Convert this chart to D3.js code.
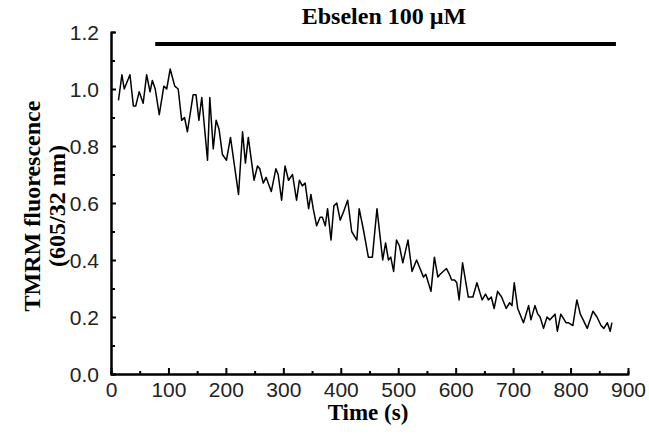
<!DOCTYPE html>
<html>
<head>
<meta charset="utf-8">
<script src="https://cdn.jsdelivr.net/npm/d3@7"></script>
<style>
  body { margin: 0; background: #fff; }
  svg { display: block; }
</style>
</head>
<body>
<svg id="graph" width="649" height="443"></svg>
<script>
/* global d3 */
const times = [13, 19, 23, 33, 39, 43, 49, 56, 62, 68, 72, 77, 84, 92, 97, 103, 111, 117, 123, 128,
  133, 143, 148, 153, 158, 168, 172, 178, 183, 188, 194, 201, 208, 222, 229, 234, 239, 249, 255, 259,
  265, 270, 279, 287, 291, 297, 303, 309, 316, 323, 328, 333, 338, 344, 348, 352, 358, 364, 368, 373,
  377, 383, 388, 393, 399, 405, 412, 419, 428, 432, 440, 448, 455, 463, 473, 478, 483, 487, 492, 497,
  502, 508, 517, 524, 532, 544, 548, 557, 563, 569, 573, 584, 589, 593, 598, 602, 606, 612, 622, 630,
  637, 646, 652, 657, 662, 667, 673, 680, 688, 694, 698, 702, 708, 718, 727, 731, 738, 743, 747, 753,
  759, 764, 773, 777, 783, 792, 796, 804, 811, 817, 822, 829, 839, 846, 853, 858, 864, 869, 872]
const fluorescence = [0.96, 1.05, 1.00, 1.05, 0.94, 0.94, 0.99, 0.95, 1.05, 0.99, 1.03, 1.00, 0.91, 1.01, 1.00, 1.07, 1.01, 1.00, 0.89, 0.90,
  0.85, 0.98, 0.98, 0.89, 0.97, 0.75, 0.97, 0.79, 0.89, 0.86, 0.77, 0.75, 0.83, 0.63, 0.85, 0.74, 0.83, 0.68, 0.73, 0.72,
  0.67, 0.69, 0.64, 0.72, 0.70, 0.61, 0.73, 0.68, 0.70, 0.61, 0.68, 0.66, 0.67, 0.58, 0.63, 0.58, 0.52, 0.55, 0.55, 0.52,
  0.58, 0.47, 0.59, 0.60, 0.54, 0.57, 0.61, 0.50, 0.47, 0.58, 0.50, 0.41, 0.41, 0.58, 0.40, 0.46, 0.40, 0.41, 0.36, 0.47,
  0.45, 0.39, 0.47, 0.36, 0.40, 0.34, 0.35, 0.29, 0.41, 0.34, 0.35, 0.37, 0.35, 0.33, 0.33, 0.32, 0.26, 0.39, 0.27, 0.27,
  0.32, 0.26, 0.28, 0.26, 0.27, 0.23, 0.29, 0.27, 0.23, 0.25, 0.24, 0.32, 0.23, 0.18, 0.24, 0.19, 0.24, 0.21, 0.20, 0.16,
  0.20, 0.19, 0.21, 0.15, 0.21, 0.18, 0.18, 0.17, 0.26, 0.21, 0.19, 0.16, 0.22, 0.20, 0.17, 0.16, 0.18, 0.15, 0.18]
const xTicks = [0, 100, 200, 300, 400, 500, 600, 700, 800, 900]
const yTicks = [0.0, 0.2, 0.4, 0.6, 0.8, 1.0, 1.2]
const treatment = { label: 'Ebselen 100 \u00b5M', start: 77, end: 879 }

const margin = { top: 32, right: 21, bottom: 69, left: 111 }
const width = 649
const height = 443

const x = d3.scaleLinear().domain([0, 900]).range([margin.left, width - margin.right])
const y = d3.scaleLinear().domain([0, 1.2]).range([height - margin.bottom, margin.top])

const svg = d3.select('#graph')

// minor ticks first, then the main axes on top
svg.append('g')
  .attr('transform', `translate(0,${y(0)})`)
  .call(d3.axisBottom(x).tickValues(d3.range(50, 900, 100)).tickSize(-3).tickFormat(''))
svg.append('g')
  .attr('transform', `translate(${x(0)},0)`)
  .call(d3.axisLeft(y).tickValues(d3.range(0.1, 1.2, 0.2)).tickSize(-4).tickFormat(''))

const xAxis = svg.append('g')
  .attr('transform', `translate(0,${y(0)})`)
  .call(d3.axisBottom(x).tickValues(xTicks).tickSize(-6).tickPadding(4).tickSizeOuter(0))
const yAxis = svg.append('g')
  .attr('transform', `translate(${x(0)},0)`)
  .call(d3.axisLeft(y).tickValues(yTicks).tickSize(-5).tickPadding(12).tickSizeOuter(0)
    .tickFormat(d3.format('.1f')))

svg.selectAll('.domain, .tick line').attr('stroke', '#000').attr('stroke-width', 2)
svg.selectAll('.tick text')
  .attr('fill', '#222')
  .style('font-family', '"Liberation Sans", Arial, sans-serif')
  .style('font-size', '21px')
xAxis.selectAll('.tick text').attr('dy', '0.92em')
yAxis.selectAll('.tick text').attr('dy', '0.36em')

const line = d3.line()
  .x((d, i) => x(times[i]))
  .y(d => y(d))

svg.append('path')
  .datum(fluorescence)
  .attr('d', line)
  .attr('fill', 'none')
  .attr('stroke', '#000')
  .attr('stroke-width', 1.5)
  .attr('stroke-linejoin', 'round')

// treatment bar
svg.append('line')
  .attr('x1', x(treatment.start))
  .attr('x2', x(treatment.end))
  .attr('y1', 44)
  .attr('y2', 44)
  .attr('stroke', '#000')
  .attr('stroke-width', 4)

const serif = '"Liberation Serif", "Times New Roman", serif'
svg.append('text')
  .attr('x', 384)
  .attr('y', 24)
  .attr('text-anchor', 'middle')
  .style('font-family', serif)
  .style('font-weight', 'bold')
  .style('font-size', '24px')
  .text(treatment.label)

svg.append('text')
  .attr('x', 368)
  .attr('y', 420)
  .attr('text-anchor', 'middle')
  .style('font-family', serif)
  .style('font-weight', 'bold')
  .style('font-size', '23px')
  .text('Time (s)')

const yTitle = svg.append('text')
  .attr('transform', 'translate(40,206) rotate(-90)')
  .attr('text-anchor', 'middle')
  .style('font-family', serif)
  .style('font-weight', 'bold')
  .style('font-size', '24px')
yTitle.append('tspan').attr('x', 0).attr('dy', 0).text('TMRM fluorescence')
yTitle.append('tspan').attr('x', 0).attr('dy', 25).text('(605/32 nm)')
</script>
</body>
</html>
